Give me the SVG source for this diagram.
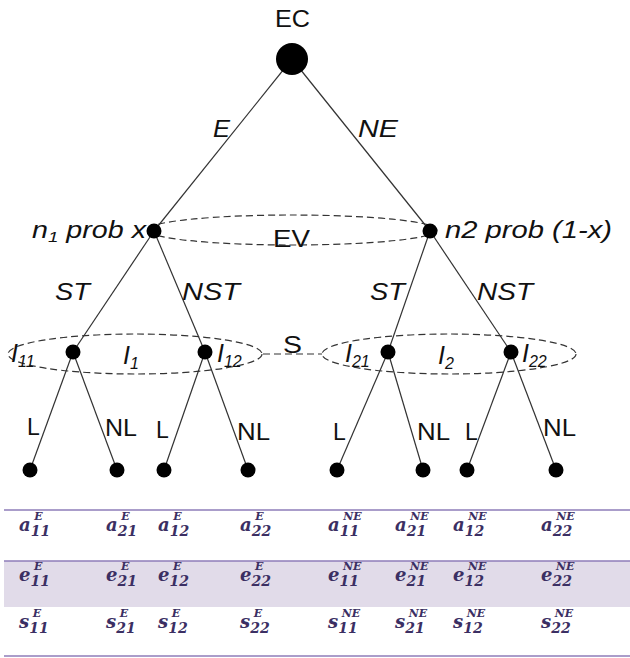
<svg xmlns="http://www.w3.org/2000/svg" width="630" height="658" viewBox="0 0 630 658">
<style>
.e{stroke:#333;stroke-width:1.2;fill:none}
.d{stroke:#333;stroke-width:1.2;fill:none;stroke-dasharray:7 4}
.n{fill:#000}
.t{font-family:"Liberation Sans",Arial,sans-serif;font-size:23px;fill:#111}
.i{font-style:italic}
.g{font-size:25px}
.m{font-family:"DejaVu Serif","Liberation Serif",serif;font-style:italic;font-size:18px;fill:#3b2f63;font-weight:bold}
.sb{font-size:14px}
.sp{font-size:11px}
.tl{stroke:#8e7cb8;stroke-width:1.5}
</style>
<rect width="630" height="658" fill="#fff"/>
<g id="connectors">
<line class="e" x1="292" y1="59" x2="154" y2="231"/>
<line class="e" x1="292" y1="59" x2="430" y2="231"/>
<line class="e" x1="154" y1="231" x2="73" y2="352"/>
<line class="e" x1="154" y1="231" x2="205" y2="352"/>
<line class="e" x1="430" y1="231" x2="388" y2="352"/>
<line class="e" x1="430" y1="231" x2="511" y2="352"/>
<line class="e" x1="73" y1="352" x2="30" y2="470"/>
<line class="e" x1="73" y1="352" x2="117" y2="470"/>
<line class="e" x1="205" y1="352" x2="164" y2="470"/>
<line class="e" x1="205" y1="352" x2="248" y2="470"/>
<line class="e" x1="388" y1="352" x2="337" y2="470"/>
<line class="e" x1="388" y1="352" x2="423" y2="470"/>
<line class="e" x1="511" y1="352" x2="467" y2="470"/>
<line class="e" x1="511" y1="352" x2="556" y2="470"/>
<line class="d" x1="263" y1="354" x2="322" y2="354"/>
</g>
<g id="labels">
<text class="t i" x="213" y="137" textLength="17" lengthAdjust="spacingAndGlyphs">E</text>
<text class="t i" x="358" y="137" textLength="40" lengthAdjust="spacingAndGlyphs">NE</text>
<text class="t i" x="55" y="300" textLength="35" lengthAdjust="spacingAndGlyphs">ST</text>
<text class="t i" x="182" y="300" textLength="58" lengthAdjust="spacingAndGlyphs">NST</text>
<text class="t i" x="370" y="300" textLength="35" lengthAdjust="spacingAndGlyphs">ST</text>
<text class="t i" x="477" y="300" textLength="56" lengthAdjust="spacingAndGlyphs">NST</text>
<text class="t" x="27" y="435" font-size="20">L</text>
<text class="t" x="105" y="436" font-size="20" textLength="32" lengthAdjust="spacingAndGlyphs">NL</text>
<text class="t" x="156" y="438" font-size="20">L</text>
<text class="t" x="237" y="440" font-size="20" textLength="33" lengthAdjust="spacingAndGlyphs">NL</text>
<text class="t" x="333" y="440" font-size="20">L</text>
<text class="t" x="417" y="440" font-size="20" textLength="33" lengthAdjust="spacingAndGlyphs">NL</text>
<text class="t" x="465" y="440" font-size="20">L</text>
<text class="t" x="543" y="436" font-size="20" textLength="33" lengthAdjust="spacingAndGlyphs">NL</text>
<text class="t" x="283" y="353" textLength="19" lengthAdjust="spacingAndGlyphs">S</text>
</g>
<g id="EC">
<circle class="n" cx="292" cy="59" r="16"/>
<text class="t" x="275" y="27" textLength="35" lengthAdjust="spacingAndGlyphs">EC</text>
</g>
<g id="EV">
<ellipse class="d" cx="292" cy="230" rx="145" ry="15"/>
<text class="t" x="273" y="247" textLength="37" lengthAdjust="spacingAndGlyphs">EV</text>
</g>
<g id="n1">
<circle class="n" cx="154" cy="231" r="7.5"/>
<text class="t i" x="32" y="238" font-size="24" textLength="114" lengthAdjust="spacingAndGlyphs">n<tspan font-size="15" dy="4">1</tspan><tspan dy="-4"> prob x</tspan></text>
</g>
<g id="n2">
<circle class="n" cx="430" cy="231" r="7.5"/>
<text class="t i" x="445" y="238" font-size="24" textLength="167" lengthAdjust="spacingAndGlyphs">n2 prob (1-x)</text>
</g>
<g id="I1">
<ellipse class="d" cx="135" cy="354" rx="127" ry="20"/>
<text class="t i g" x="123" y="364">I<tspan font-size="16" dy="5">1</tspan></text>
</g>
<g id="I2">
<ellipse class="d" cx="449" cy="354" rx="127" ry="20"/>
<text class="t i g" x="438" y="364">I<tspan font-size="16" dy="5">2</tspan></text>
</g>
<g id="I11">
<circle class="n" cx="73" cy="352" r="7.5"/>
<text class="t i g" x="11" y="362">I<tspan font-size="16" dy="5">11</tspan></text>
</g>
<g id="I12">
<circle class="n" cx="205" cy="352" r="7.5"/>
<text class="t i g" x="217" y="362">I<tspan font-size="16" dy="5">12</tspan></text>
</g>
<g id="I21">
<circle class="n" cx="388" cy="352" r="7.5"/>
<text class="t i g" x="345" y="362">I<tspan font-size="16" dy="5">21</tspan></text>
</g>
<g id="I22">
<circle class="n" cx="511" cy="352" r="7.5"/>
<text class="t i g" x="522" y="362">I<tspan font-size="16" dy="5">22</tspan></text>
</g>
<g id="leaves">
<circle class="n" cx="30" cy="470" r="7.5"/>
<circle class="n" cx="117" cy="470" r="7.5"/>
<circle class="n" cx="164" cy="470" r="7.5"/>
<circle class="n" cx="248" cy="470" r="7.5"/>
<circle class="n" cx="337" cy="470" r="7.5"/>
<circle class="n" cx="423" cy="470" r="7.5"/>
<circle class="n" cx="467" cy="470" r="7.5"/>
<circle class="n" cx="556" cy="470" r="7.5"/>
</g>
<g id="table">
<rect x="4" y="561" width="626" height="46" fill="#e1dbe9"/>
<line class="tl" x1="4" y1="510" x2="630" y2="510"/>
<line class="tl" x1="4" y1="561" x2="630" y2="561"/>
<line class="tl" x1="4" y1="656" x2="630" y2="656"/>
<g class="m">
<text x="19" y="531">a<tspan class="sb" dy="5">11</tspan><tspan class="sp" dx="-16" dy="-16">E</tspan></text>
<text x="106" y="531">a<tspan class="sb" dy="5">21</tspan><tspan class="sp" dx="-16" dy="-16">E</tspan></text>
<text x="158" y="531">a<tspan class="sb" dy="5">12</tspan><tspan class="sp" dx="-16" dy="-16">E</tspan></text>
<text x="240" y="531">a<tspan class="sb" dy="5">22</tspan><tspan class="sp" dx="-16" dy="-16">E</tspan></text>
<text x="328" y="531">a<tspan class="sb" dy="5">11</tspan><tspan class="sp" dx="-16" dy="-16">NE</tspan></text>
<text x="395" y="531">a<tspan class="sb" dy="5">21</tspan><tspan class="sp" dx="-16" dy="-16">NE</tspan></text>
<text x="453" y="531">a<tspan class="sb" dy="5">12</tspan><tspan class="sp" dx="-16" dy="-16">NE</tspan></text>
<text x="541" y="531">a<tspan class="sb" dy="5">22</tspan><tspan class="sp" dx="-16" dy="-16">NE</tspan></text>
<text x="19" y="581">e<tspan class="sb" dy="5">11</tspan><tspan class="sp" dx="-16" dy="-16">E</tspan></text>
<text x="106" y="581">e<tspan class="sb" dy="5">21</tspan><tspan class="sp" dx="-16" dy="-16">E</tspan></text>
<text x="158" y="581">e<tspan class="sb" dy="5">12</tspan><tspan class="sp" dx="-16" dy="-16">E</tspan></text>
<text x="240" y="581">e<tspan class="sb" dy="5">22</tspan><tspan class="sp" dx="-16" dy="-16">E</tspan></text>
<text x="328" y="581">e<tspan class="sb" dy="5">11</tspan><tspan class="sp" dx="-16" dy="-16">NE</tspan></text>
<text x="395" y="581">e<tspan class="sb" dy="5">21</tspan><tspan class="sp" dx="-16" dy="-16">NE</tspan></text>
<text x="453" y="581">e<tspan class="sb" dy="5">12</tspan><tspan class="sp" dx="-16" dy="-16">NE</tspan></text>
<text x="541" y="581">e<tspan class="sb" dy="5">22</tspan><tspan class="sp" dx="-16" dy="-16">NE</tspan></text>
<text x="19" y="628">s<tspan class="sb" dy="5">11</tspan><tspan class="sp" dx="-16" dy="-16">E</tspan></text>
<text x="106" y="628">s<tspan class="sb" dy="5">21</tspan><tspan class="sp" dx="-16" dy="-16">E</tspan></text>
<text x="158" y="628">s<tspan class="sb" dy="5">12</tspan><tspan class="sp" dx="-16" dy="-16">E</tspan></text>
<text x="240" y="628">s<tspan class="sb" dy="5">22</tspan><tspan class="sp" dx="-16" dy="-16">E</tspan></text>
<text x="328" y="628">s<tspan class="sb" dy="5">11</tspan><tspan class="sp" dx="-16" dy="-16">NE</tspan></text>
<text x="395" y="628">s<tspan class="sb" dy="5">21</tspan><tspan class="sp" dx="-16" dy="-16">NE</tspan></text>
<text x="453" y="628">s<tspan class="sb" dy="5">12</tspan><tspan class="sp" dx="-16" dy="-16">NE</tspan></text>
<text x="541" y="628">s<tspan class="sb" dy="5">22</tspan><tspan class="sp" dx="-16" dy="-16">NE</tspan></text>
</g>
</g>
</svg>
